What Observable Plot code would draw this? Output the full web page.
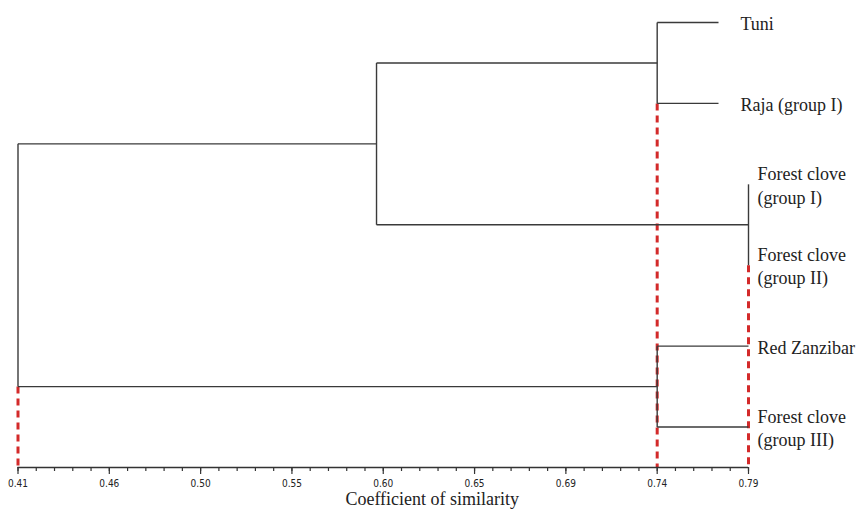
<!DOCTYPE html>
<html>
<head>
<meta charset="utf-8">
<script src="https://cdn.jsdelivr.net/npm/d3@7"></script>
<script src="https://cdn.jsdelivr.net/npm/@observablehq/plot@0.6"></script>
<style>
  html, body { margin: 0; padding: 0; background: #fff; }
  #chart svg { display: block; }
</style>
</head>
<body>
<div id="chart"></div>
<script>
// ---- data ----
const leaves = ["Tuni", "Raja (group I)", "Forest clove\n(group I)", "Forest clove\n(group II)", "Red Zanzibar", "Forest clove\n(group III)"];
const leafEnd = [0.7744, 0.7744, 0.79, 0.79, 0.79, 0.79];
// merges: node ids 0-5 are leaves, 6.. are merges in order
const mergeA = [0, 2, 4, 6, 9];
const mergeB = [1, 3, 5, 7, 8];
const mergeHeight = [0.7425, 0.79, 0.7425, 0.5965, 0.41];
// red dashed cut lines
const cutValues = [0.41, 0.7425, 0.79];
const cutFromNode = [8, 1, 3];
// axis ticks
const majorTicks = [0.41, 0.4575, 0.505, 0.5525, 0.6, 0.6475, 0.695, 0.7425, 0.79];
const tickLabels = ["0.41", "0.46", "0.50", "0.55", "0.60", "0.65", "0.69", "0.74", "0.79"];
const axisTitle = "Coefficient of similarity";

// ---- layout from tree ----
const nx = leaves.map((_, i) => leafEnd[i]);
const ny = leaves.map((_, i) => i);
mergeHeight.forEach((h, k) => {
  nx.push(h);
  ny.push((ny[mergeA[k]] + ny[mergeB[k]]) / 2);
});
const segs = [];
mergeHeight.forEach((h, k) => {
  const a = mergeA[k], b = mergeB[k];
  segs.push({x1: h, x2: h, y1: ny[a], y2: ny[b]});
  segs.push({x1: h, x2: nx[a], y1: ny[a], y2: ny[a]});
  segs.push({x1: h, x2: nx[b], y1: ny[b], y2: ny[b]});
});
const yBottom = 5.5;
const cuts = cutValues.map((v, i) => ({x: v, y1: ny[cutFromNode[i]], y2: yBottom}));
const leafData = leaves.map((name, i) => ({name, x: leafEnd[i], y: i}));
const step = (majorTicks[1] - majorTicks[0]) / 5;
const minorTicks = d3.range(0, 41).map(i => majorTicks[0] + i * step);

const serif = "'Liberation Serif', 'Times New Roman', serif";
const narrow = "'Liberation Sans Narrow', 'Arial Narrow', 'DejaVu Sans Condensed', sans-serif";

const chart = Plot.plot({
  width: 862,
  height: 515,
  marginLeft: 17.5,
  marginRight: 114,
  marginTop: 22,
  marginBottom: 48,
  style: {background: "#fff", fontFamily: serif},
  x: {type: "linear", domain: [0.41, 0.79], axis: null},
  y: {type: "linear", domain: [0, yBottom], reverse: true, axis: null},
  marks: [
    // red dashed cut lines
    Plot.link(cuts, {x1: "x", x2: "x", y1: "y1", y2: "y2", stroke: "#d32a2a", strokeWidth: 3, strokeDasharray: "7,5"}),
    // dendrogram
    Plot.link(segs, {x1: "x1", x2: "x2", y1: "y1", y2: "y2", stroke: "#3a3a3a", strokeWidth: 1.4}),
    // axis line
    Plot.ruleY([yBottom], {x1: 0.41, x2: 0.79, stroke: "#333", strokeWidth: 1.4}),
    Plot.axisX({ticks: minorTicks, tickSize: 4, tickFormat: () => "", stroke: "#333", strokeWidth: 1.2, label: null}),
    Plot.axisX({ticks: majorTicks, tickSize: 7, tickPadding: 5, stroke: "#333", strokeWidth: 1.2,
      tickFormat: d => tickLabels[majorTicks.indexOf(d)], fontFamily: narrow, fontSize: 10, fill: "#222", label: null}),
    // leaf labels
    Plot.text(leafData.filter(d => d.x < 0.79), {x: "x", y: "y", text: "name", textAnchor: "start", dx: 22, fontSize: 18, fontFamily: serif, fill: "#222", lineHeight: 1.3}),
    Plot.text(leafData.filter(d => d.x >= 0.79), {x: "x", y: "y", text: "name", textAnchor: "start", dx: 9, fontSize: 18, fontFamily: serif, fill: "#222", lineHeight: 1.3}),
    // axis title
    Plot.text([axisTitle], {frameAnchor: "bottom", dx: 49, dy: 37, fontSize: 18, fontFamily: serif, fill: "#222"})
  ]
});
document.getElementById("chart").appendChild(chart);
</script>
</body>
</html>
